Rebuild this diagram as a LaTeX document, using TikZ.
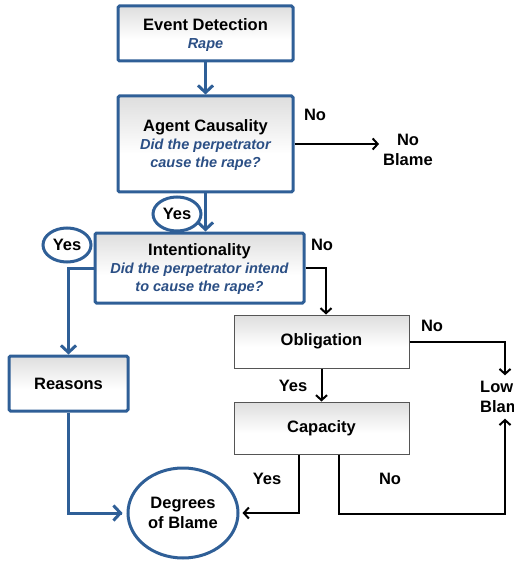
\documentclass[tikz,border=0pt]{standalone}
\usepackage{fontspec}
\setmainfont{Liberation Sans}
\usetikzlibrary{arrows.meta,shapes.geometric,calc}
\definecolor{boxblue}{HTML}{2F5F97}
\definecolor{txtblue}{HTML}{2B4F85}
\definecolor{thingray}{HTML}{555555}
\pgfdeclareverticalshading{boxgrad}{100bp}{color(0bp)=(white); color(45bp)=(white); color(100bp)=(black!24)}
\tikzset{
  bluebox/.style={draw=boxblue, line width=3pt, shading=boxgrad, rectangle, rounded corners=1.5pt,
    align=center, inner sep=0pt, text depth=0pt, font=\fontsize{16.5}{18}\selectfont\bfseries},
  graybox/.style={draw=thingray, line width=1pt, shading=boxgrad, rectangle,
    align=center, inner sep=0pt, font=\fontsize{16.5}{18}\selectfont\bfseries},
  yesell/.style={draw=boxblue, line width=3pt, fill=white, ellipse, inner sep=0pt,
    minimum width=48pt, minimum height=34pt, font=\fontsize{16.5}{18}\selectfont\bfseries},
  lbl/.style={inner sep=0pt, font=\fontsize{16.5}{18}\selectfont\bfseries},
  outtxt/.style={inner sep=4pt, align=center, font=\fontsize{16.5}{19.5}\selectfont\bfseries},
  bluearrow/.style={draw=boxblue, line width=3pt, -{Straight Barb[length=7pt,width=15pt,line width=3pt]}},
  bluepath/.style={draw=boxblue, line width=3pt},
  blackarrow/.style={draw=black, line width=2pt, -{Straight Barb[length=5pt,width=11pt,line width=2pt]}},
}
\newcommand{\qline}[1]{{\fontsize{14.5}{18}\selectfont\itshape\color{txtblue}#1}}
\begin{document}
\begin{tikzpicture}[x=1pt,y=-1pt]
\useasboundingbox (0,0) rectangle (513,561);
\clip (0,0) rectangle (513,561);
% boxes
\node[bluebox, minimum width=175pt, minimum height=55pt] (ev) at (205.5,33.5)
  {Event Detection\\\qline{Rape}};
\node[bluebox, minimum width=175pt, minimum height=96pt] (ag) at (205.5,144)
  {Agent Causality\\\qline{Did the perpetrator}\\\qline{cause the rape?}};
\node[bluebox, minimum width=209pt, minimum height=70pt] (in) at (199.5,268)
  {Intentionality\\\qline{Did the perpetrator intend}\\\qline{to cause the rape?}};
\node[bluebox, minimum width=119pt, minimum height=55pt] (re) at (68.5,383.5) {Reasons};
\node[graybox, minimum width=175pt, minimum height=53pt] (ob) at (321.5,341.5) {Obligation};
\node[graybox, minimum width=175pt, minimum height=52pt] (ca) at (321.5,428) {Capacity};
\node[draw=boxblue, line width=3pt, fill=white, ellipse, minimum width=110pt, minimum height=90pt,
  inner sep=0pt, align=center, font=\fontsize{16.5}{20}\selectfont\bfseries] (dob) at (183,513)
  {Degrees\\of Blame};
\node[outtxt] (nob) at (408,150) {No\\Blame};
\node[outtxt, align=left, inner ysep=6pt] (low) at (505,397) {Low\\Blame};
% yes ellipses
\node[yesell] (yes1) at (177,214) {Yes};
\node[yesell] (yes2) at (67,245) {Yes};
% labels
\node[lbl] (no1) at (315,115) {No};
\node[lbl] (no2) at (322,245) {No};
\node[lbl] (no3) at (432,326) {No};
\node[lbl] (yes3) at (293,386) {Yes};
\node[lbl] (yes4) at (267,479) {Yes};
\node[lbl] (no4) at (390,479) {No};
% connectors
\draw[bluearrow] (ev.south) -- (ag.north);
\draw[bluearrow] (ag.south) -- (ag.south |- in.north);
\draw[blackarrow] (ag.east) -- (ag.east -| nob.west);
\draw[blackarrow] (in.east) -| ([xshift=4.5pt]ob.north);
\draw[bluearrow] (in.west) -| (re.north);
\draw[bluepath] (re.south) |- ([xshift=-5pt]dob.west);
\draw[bluearrow, shorten >=4pt] (re.south |- dob.west) -- (dob.west);
\draw[blackarrow] (ob.east) -| (low.north);
\draw[blackarrow] (ob.south) -- (ca.north);
\draw[blackarrow, shorten >=3pt] ([xshift=-22.5pt]ca.south) |- (dob.east);
\coordinate (lowturn) at ($(low.south |- dob.east)+(0,-1pt)$);
\draw[blackarrow] ([xshift=17.5pt]ca.south) |- (lowturn) -- (low.south);
\end{tikzpicture}
\end{document}
